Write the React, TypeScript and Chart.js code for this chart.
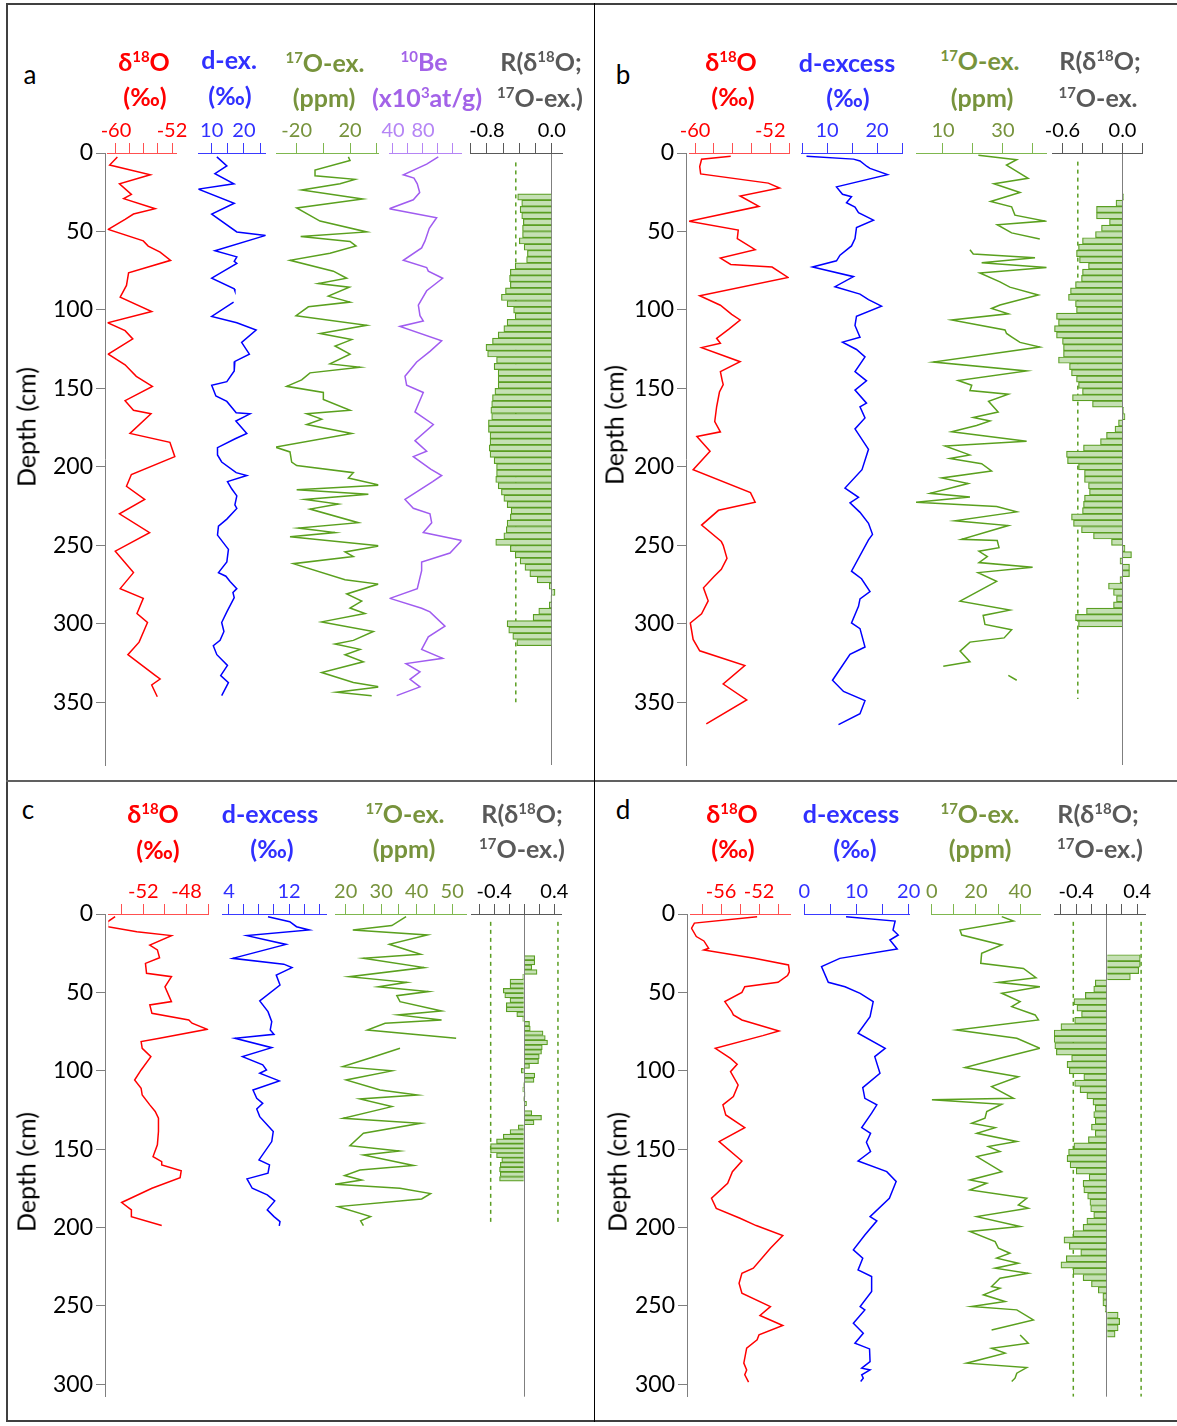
import React, { useEffect, useRef } from 'react';
import { Chart, registerables } from 'chart.js';

Chart.register(...registerables);

const FONT = 'Lato, "Liberation Sans", sans-serif';
Chart.defaults.font.family = FONT;

// ---------- DATA (depth cm, value) ----------
const DEPTH_TICKS_AB = [0, 50, 100, 150, 200, 250, 300, 350];
const DEPTH_TICKS_CD = [0, 50, 100, 150, 200, 250, 300];

// Panel a
const A_D18O = [[2.5,-59.8],[7.7,-60.9],[13.9,-55.1],[19.6,-59.5],[26.4,-57.8],[29.1,-58.9],[35.5,-54.4],[38.9,-57.5],[42.3,-58.7],[48.7,-61.1],[56,-56.1],[59.3,-55.4],[63.2,-53.7],[68.4,-52.2],[76.4,-58.2],[84.4,-58.5],[91.9,-59.4],[101,-54.9],[108.2,-61.2],[113.2,-58.7],[118.5,-57.6],[128.2,-61.1],[135,-58.7],[142.3,-57.1],[148.7,-54.8],[157.8,-58.7],[163.9,-57.5],[166.2,-55.0],[178.7,-58.0],[184.4,-52.3],[193.5,-51.6],[204.9,-57.8],[212.4,-58.5],[220.8,-55.9],[229.9,-59.5],[241.9,-55.2],[253.7,-60.1],[267.4,-57.5],[277.6,-59.4],[283.8,-56.1],[293.5,-57.0],[299.2,-55.5],[311.7,-56.7],[319.7,-58.3],[332.9,-54.4],[335.2,-53.7],[339,-54.9],[346.5,-54.1]];
const A_DEX = [[2.5,11.6],[8.2,14.7],[13.2,11.0],[19.6,16.9],[23,5.9],[32,17.0],[38.9,10.0],[50.3,17.8],[52.5,26.8],[62.3,11.0],[66.2,17.8],[69,17.0],[70.3,17.8],[79.8,10.0],[86.6,17.0],[87.8,17.2],[91,null],[95,16.8],[104.1,10.0],[108.2,17.8],[112.8,23.8],[120.7,19.3],[128.2,21.7],[132.8,17.2],[138.9,17.0],[145.7,14.7],[148,10.0],[154.8,11.3],[158.3,14.7],[165.5,17.6],[166.2,21.9],[170.8,17.5],[178.7,20.9],[182.1,17.3],[187.8,11.8],[192.4,11.8],[196.9,13.1],[203.7,17.6],[205.5,20.9],[209.4,14.9],[214,16.2],[218.5,17.8],[224.2,17.2],[226.5,17.8],[233.3,14.7],[237.8,12.1],[243.5,11.8],[252.6,15.2],[260.6,14.7],[267.4,12.1],[269.7,14.4],[273.1,15.7],[277.6,17.8],[280,16.6],[283.4,17.0],[292.4,14.7],[299.2,13.1],[304.9,13.8],[310.6,12.6],[314,10.5],[319.7,11.6],[326.5,14.9],[333,12.8],[337.5,15.2],[345.8,13.1]];
const A_17O = [[2.5,18.75],[4.8,20],[10.9,-6.25],[14.5,-6.25],[16.8,23.75],[19.6,12.5],[23.6,-16.25],[29.3,29.5],[35,-20],[43.4,-2.5],[50.3,32.5],[53.2,-17],[56.4,20],[59.3,24.5],[63.9,5],[68.4,-25],[75.3,7.5],[79.8,17.5],[83.2,-3.75],[85.5,19.5],[91.2,3.75],[95,20],[98,-11.25],[103.7,-20.5],[109.8,32.5],[115,-2.5],[118.9,21.25],[123,8.75],[128.2,20],[134.4,5],[136.6,27.5],[140.1,-10],[144.6,-16.25],[148.7,-27.5],[152.6,0],[157.1,0],[164,20],[166.2,-12.5],[169.6,-1.25],[173,-12.5],[178.7,21.25],[187.4,-36.25],[190.5,-25],[197,-23.75],[199.2,-20],[203.7,22.5],[207.1,18.75],[211.7,42.5],[214.6,-20],[217.4,33.75],[220.8,-13.75],[223.7,11.25],[226.9,-10],[235.6,26.25],[239,-18.75],[241.9,8.75],[244.6,-25],[250.3,42.5],[254.2,16.25],[257.2,22.5],[261.7,-22.5],[271.9,16.25],[274.7,41.25],[281,17.5],[285.6,28.75],[290,20],[293.5,31.25],[298.8,-1.25],[304.9,37.5],[310.6,22.5],[312.9,8.75],[316.3,27.5],[319.7,16.25],[324.2,30],[331.1,-1.25],[337.4,22.5],[340.2,42.5],[343.6,10],[345.8,36.25]];
const A_BE = [[2.5,100.4],[7.1,84.9],[13.9,53.8],[16,68],[19.6,72.4],[25.2,75.6],[29.8,67.1],[35.5,35.1],[41.2,98.2],[48,88.4],[56,82.7],[60.5,78.2],[68.4,53.8],[73,84.9],[75.3,87.1],[79.8,106.2],[87.8,84.9],[96.9,73.8],[103.7,76],[107,80.4],[110.5,49.3],[119.6,104.9],[126.4,89.3],[133.2,71.6],[142.3,56],[148,58.2],[152.6,80.4],[165,69.3],[173,93.8],[183.3,69.3],[190,84.9],[193.5,67.1],[201.5,90.2],[205.5,104.9],[209.4,92.9],[220.8,56],[226.4,67.1],[229.9,89.3],[235.6,91.6],[241.9,80.4],[246.9,131.6],[254.9,116],[260.6,78.2],[266.2,78.2],[277.6,72.4],[283.8,36],[290.1,78.2],[292.4,89.3],[301.5,109.3],[308.3,87.1],[316.3,78.2],[322,106.2],[325.4,57.3],[330.6,76],[335.4,62.7],[340.2,76],[345.8,44.9]];
const A_R = [[28,-0.42],[32,-0.37],[36,-0.39],[40,-0.37],[44,-0.35],[48,-0.36],[52,-0.36],[56,-0.40],[60,-0.34],[64,-0.30],[68,-0.31],[72,-0.45],[76,-0.51],[80,-0.52],[84,-0.51],[88,-0.57],[92,-0.62],[96,-0.55],[100,-0.47],[104,-0.45],[108,-0.55],[112,-0.59],[116,-0.66],[120,-0.73],[124,-0.81],[128,-0.79],[132,-0.68],[136,-0.71],[140,-0.66],[144,-0.66],[148,-0.66],[152,-0.70],[156,-0.73],[160,-0.74],[164,-0.75],[168,-0.74],[172,-0.78],[176,-0.78],[180,-0.76],[184,-0.76],[188,-0.77],[192,-0.76],[196,-0.71],[200,-0.68],[204,-0.68],[208,-0.69],[212,-0.66],[216,-0.62],[220,-0.59],[224,-0.55],[228,-0.50],[232,-0.51],[236,-0.55],[240,-0.56],[244,-0.59],[248,-0.69],[252,-0.51],[256,-0.45],[260,-0.39],[264,-0.33],[268,-0.27],[272,-0.18],[276,-0.03],[280,0.04],[284,-0.01],[288,-0.03],[292,-0.16],[296,-0.23],[300,-0.55],[304,-0.53],[308,-0.48],[312,-0.43]];
const A_R_THRESH = [-0.443];
const A_R_THRESH_SPAN = [6, 350];

// Panel b
const B_D18O = [[2,-56.2],[4,-59.3],[8.6,-59.5],[13.3,-59.4],[19.2,-52.2],[22.3,-51.0],[27.4,-55.2],[34,-53.2],[43.5,-60.7],[49.1,-55.4],[54.5,-55.5],[61.6,-53.6],[67,-57.3],[71,-56.2],[72.7,-51.8],[79.3,-50.1],[91,-59.5],[97,-57.3],[102.8,-56.1],[106.4,-55.2],[112.2,-56.4],[118.1,-57.7],[121.2,-57.3],[124,-59.3],[133,-55.2],[139.3,-57.3],[145.2,-57.1],[147.6,-57.0],[152.3,-57.4],[161.7,-57.7],[171.1,-57.9],[177.7,-57.3],[180.6,-59.8],[190,-58.4],[201.8,-60.2],[216.4,-54.1],[222.5,-53.6],[227.7,-57.5],[237.1,-59.3],[247.6,-57.2],[250,-57.0],[258.3,-56.6],[265.3,-57.2],[270,-58.0],[277.1,-59.1],[285.4,-58.6],[293.6,-59.3],[299.5,-60.5],[310,-60.2],[317.2,-59.5],[326.6,-54.7],[338.4,-57.0],[348.5,-54.5],[363.8,-58.8]];
const B_DEX = [[2,5.9],[3.9,15.3],[5.1,16.6],[8.6,18],[9.8,18.6],[13.8,22.1],[21.6,11.9],[26.3,13.1],[27.9,14.9],[31.7,13.9],[34.5,15.6],[38,16.3],[42.8,19.3],[47.5,15.9],[54.5,15.6],[59.2,14.9],[65.1,12.6],[68.7,11.9],[72.7,7.1],[78.8,15.3],[85.2,11.6],[89.9,16.6],[93.4,18.3],[97.6,20.9],[104,15.9],[109.9,15.6],[117.4,16.6],[120.5,13.1],[125.2,15.9],[129.9,17.6],[139.3,15.6],[145.2,17.9],[151.1,15.6],[159.4,17.9],[161.7,16.6],[168.8,17.6],[175.8,15.6],[188.8,18.3],[201.8,17.0],[213.5,13.6],[219.4,16.3],[222.9,14.6],[229,16.6],[236,18.3],[243,19.1],[246.5,18.3],[266.5,14.9],[271.3,16.9],[279.5,18.6],[284.2,16.6],[288.9,16.3],[299.5,14.9],[303.1,16.6],[314.8,17.6],[319.5,14.6],[336,11.1],[343.1,13.3],[349,17.6],[357.3,16.6],[364.3,12.3]];
const B_17O = [[1.4,21.8],[4.3,34.6],[7.7,31.2],[16.1,38.4],[19.6,27],[25.2,35.7],[30.9,25.9],[34.3,32.9],[39.6,34],[43.4,44],[45.7,28.1],[50.9,32.9],[54.8,42.3],[58,null],[61.6,19],[64.3,20.1],[66.8,40.7],[70,22.9],[73,44.6],[76.4,22.3],[82.1,29],[85.5,32.3],[90.5,41.8],[96.9,29],[99.1,26.2],[102.5,31.8],[106.4,12.9],[112.8,30.7],[115,31.2],[117.3,33],[120.7,35.7],[123.7,42.3],[133.2,6.8],[138.9,37.9],[145,15.1],[148,19.6],[151.4,19],[153.7,31.8],[158.2,25.2],[165,28.4],[168.5,20.1],[170.8,25.7],[173.7,21.2],[177.6,12.9],[183.7,37.9],[186.7,10.7],[192.4,18.9],[194.7,12.3],[198,22.9],[202.6,26.2],[207.1,9.6],[210.6,18.4],[216.9,5.7],[219.2,19],[222.6,0.7],[225.3,27.9],[228.7,34.6],[234.4,14],[237.4,31.8],[246.2,16.2],[247,28.1],[251.5,28.7],[253.8,22],[257.2,24.8],[261,22],[264,39.9],[267.4,21.7],[273,27.9],[285.6,15.7],[291.3,32.3],[294.7,23.4],[300.4,24],[303.8,32.9],[309,30.4],[311.7,19],[317.4,15.7],[324.2,19],[327,10.1],[330,null],[332.9,31.8],[336,34.6]];
const B_R = [[28,0.01],[32,-0.065],[36,-0.26],[40,-0.26],[44,-0.13],[48,-0.21],[52,-0.27],[56,-0.40],[60,-0.44],[64,-0.46],[68,-0.43],[72,-0.34],[76,-0.40],[80,-0.41],[84,-0.47],[88,-0.52],[92,-0.54],[96,-0.47],[100,-0.46],[104,-0.66],[108,-0.64],[112,-0.68],[116,-0.66],[120,-0.60],[124,-0.59],[128,-0.59],[132,-0.64],[136,-0.53],[140,-0.51],[144,-0.46],[148,-0.44],[152,-0.40],[156,-0.50],[160,-0.30],[164,0.01],[168,0.025],[172,-0.04],[176,-0.075],[180,-0.16],[184,-0.22],[188,-0.39],[192,-0.56],[196,-0.55],[200,-0.44],[204,-0.38],[208,-0.38],[212,-0.34],[216,-0.33],[220,-0.38],[224,-0.39],[228,-0.40],[232,-0.51],[236,-0.49],[240,-0.41],[244,-0.29],[248,-0.11],[252,0.025],[256,0.09],[260,-0.025],[264,0.07],[268,0.07],[272,-0.025],[276,-0.14],[280,-0.09],[284,-0.06],[288,-0.09],[292,-0.36],[296,-0.47],[300,-0.44]];
const B_R_THRESH = [-0.447];
const B_R_THRESH_SPAN = [5.5, 348];

// Panel c
const C_D18O = [[1.7,-54.6],[5,-55.3],[8.1,-55.3],[11.3,-52.6],[13.8,-49.4],[19.8,-51.4],[22.9,-50.7],[27.9,-50.5],[31.5,-51.8],[37.8,-51.7],[40,-49.4],[46.4,-50],[55.9,-49.4],[58,-51.4],[63.4,-51.2],[67.6,-47.8],[69.7,-47.5],[73.6,-46.1],[79.3,-50.5],[81.4,-52.2],[85.7,-52.1],[91,-51.3],[99.5,-52.2],[105.9,-52.8],[111.2,-52.2],[115.5,-52.1],[121.8,-51.4],[126,-50.9],[130.3,-50.6],[138.8,-50.6],[147.3,-50.7],[154.8,-51.1],[158,-50.3],[160.1,-50.3],[163.9,-48.5],[168.2,-48.6],[175,-51.2],[184.1,-54.0],[188.8,-53.1],[193.1,-53.1],[198.8,-50.3]];
const C_DEX = [[1.7,9.2],[4.9,12.1],[8.1,13],[10.2,14.7],[13.8,6.4],[19.4,11.6],[28.3,4.5],[32,11.3],[34.2,12.4],[39,10.3],[45.3,10.8],[55.5,8.1],[62.3,9.2],[68.7,9.7],[74,9.5],[76.8,10],[79.3,4.8],[85.3,9.7],[91,5.8],[96.3,8.5],[99.5,9],[101.6,8.1],[106.5,10.7],[112.3,7.2],[117.6,7.7],[120.8,8.5],[124.4,7.7],[129.3,8.1],[138.8,9.9],[145.2,9.7],[156.9,8],[160.1,9.4],[165.4,9.2],[169,6.4],[175,7.1],[179.2,9.1],[183.1,10.1],[188.8,9.1],[193.1,10],[196.3,10.8],[199,10.7]];
const C_17O = [[1.7,37],[7.4,33],[10.2,22],[13.4,43],[19.3,32.3],[25.7,41.1],[28.3,25],[34.2,42.1],[40,21],[43.6,37.2],[46.4,29.2],[49.5,43.3],[52.1,34.4],[55.9,35.3],[61.9,47],[64.4,34.8],[67.6,47],[69.7,31.1],[74,26.1],[79.3,51.1],[82,null],[85.7,35.3],[91.6,27.3],[97.4,19.2],[100.1,33],[105.9,20.1],[112.3,29.7],[115.5,40.2],[118,24],[122.9,33],[130.3,19.3],[133.5,41.1],[139.9,25],[147.8,21.2],[151.2,35.1],[153.7,25],[160.5,39.1],[163.3,24],[166.9,19.7],[169.7,24.5],[172.4,17],[175,35.3],[178.4,43.9],[181.8,41.4],[186.7,17.9],[193.1,27],[195.8,24.2],[198.8,25]];
const C_R = [[28,0.14],[31,0.14],[34,0.10],[37,0.17],[40,-0.02],[43,-0.19],[46,-0.19],[49,-0.28],[52,-0.26],[55,-0.19],[58,-0.24],[61,-0.24],[64,-0.10],[67,-0.02],[70,0.07],[73,0.08],[76,0.25],[79,0.28],[82,0.31],[85,0.24],[88,0.23],[91,0.20],[94,0.19],[97,0.07],[100,-0.04],[103,0.14],[106,0.13],[109,-0.01],[112,-0.02],[115,0.01],[118,-0.01],[121,0.03],[124,0],[127,0.10],[130,0.23],[133,0.13],[136,-0.08],[139,-0.19],[142,-0.28],[145,-0.37],[148,-0.45],[151,-0.45],[154,-0.37],[157,-0.30],[160,-0.32],[163,-0.33],[166,-0.32],[169,-0.33]];
const C_R_THRESH = [-0.448, 0.449];
const C_R_THRESH_SPAN = [5, 197];

// Panel d
const D_D18O = [[1.7,-52.2],[5.8,-58.8],[9.1,-59.1],[14.4,-58.6],[17.2,-57.8],[21.9,-57.3],[23,-57.8],[28.3,-52.5],[32.5,-48.9],[36.8,-48.8],[39.3,-49],[43.6,-50],[46.4,-53.5],[50,-53.8],[55.9,-55.6],[61.9,-54.9],[64.4,-54.7],[67.6,-53.8],[74.6,-49.9],[77.6,-51.6],[85.7,-56.6],[92.1,-55],[95.9,-54.3],[100.6,-55],[109.1,-54.2],[116.5,-54.7],[121.8,-55.8],[128.2,-55.5],[136.3,-53.5],[145.2,-56.2],[157.6,-53.8],[164.4,-54.8],[171.8,-55.3],[181.4,-57],[187.8,-56.5],[194.1,-54],[198.8,-52.3],[205.2,-49.5],[213.3,-50.8],[226,-52.6],[229.2,-53.8],[235.6,-54.1],[242,-53.8],[250.5,-50.8],[256.2,-51.9],[262.6,-49.5],[268.5,-52],[271.7,-52.2],[277,-53.3],[286.6,-53.6],[290.9,-53.3],[294,-53.5],[298.7,-53.1]];
const D_DEX = [[1.7,8],[4.5,17.4],[10.2,17.0],[13.4,18],[16.6,16.4],[22.3,17.8],[28.3,6.8],[33.6,3.3],[43.6,4.6],[46.4,7.8],[50.6,10.7],[55.9,13.2],[65.5,12.6],[76.1,10.3],[85.7,15.5],[91,13.5],[101.6,14.5],[110.8,11.2],[117.6,11.6],[121.8,13.9],[127.1,12.9],[136.3,11],[139.9,12.7],[145.6,11.9],[151.6,12.7],[157.6,10.3],[164.4,15.8],[170.7,17.6],[181.4,16.3],[193.1,12.6],[195.8,13.9],[204.8,11.6],[214.3,9.4],[219.6,11.2],[227.1,10.3],[231.3,12.9],[240.9,12.9],[250.5,10.7],[252.6,11.6],[261.1,9.4],[267.5,11.3],[273.9,9.7],[277.5,12.5],[285.6,12.6],[289.8,11],[290.9,12.6],[294,11],[296.2,11.3],[298.3,10.8]];
const D_17O = [[1.7,31.7],[4.5,37],[10.2,12.8],[13.4,13.6],[19.8,31.7],[25.1,22.6],[31.5,22.2],[34.7,41.5],[40.6,47.2],[43.6,30.2],[46.4,49],[50.6,31.7],[55.9,40],[59.1,36.2],[64.4,46.8],[67.6,48.3],[74,11.3],[79.3,38.5],[85.7,49],[92.1,30.9],[98,15.1],[103.8,39.2],[110.1,27.1],[117.6,37],[118.6,0],[121.4,31.7],[126.1,24.9],[130.3,24.1],[133.5,18.1],[136.3,28.7],[139.9,20.4],[145.2,38.5],[148.4,25.6],[151.6,30.9],[154.8,20.4],[164.4,31.7],[169.7,17.3],[171.8,24.9],[176.1,17.3],[181.4,43],[185.6,39.2],[187.8,43.7],[193.1,20.4],[199.4,40],[202.6,17.3],[209,28.7],[213.3,30.2],[216.5,35.4],[219.6,29.4],[222.8,39.2],[226,28.7],[229.2,43.6],[232.4,30.9],[237.7,27.1],[238.8,30.9],[243,23.4],[247.3,33.2],[250.5,18.1],[252.6,38.5],[259,46],[265.4,27.1],[267,null],[268.6,40],[273.9,43.7],[277.1,27.1],[280.2,33.2],[286.6,15.8],[289.4,43],[293,38.5],[296.2,37.7],[298.3,36.2]];
const D_R = [[28,0.44],[32,0.44],[36,0.42],[40,0.31],[44,-0.15],[48,-0.17],[52,-0.28],[56,-0.43],[60,-0.39],[64,-0.33],[68,-0.42],[72,-0.60],[76,-0.69],[80,-0.69],[84,-0.68],[88,-0.66],[92,-0.46],[96,-0.52],[100,-0.49],[104,-0.30],[108,-0.42],[112,-0.35],[116,-0.26],[120,-0.18],[124,-0.15],[128,-0.17],[132,-0.15],[136,-0.20],[140,-0.15],[144,-0.24],[148,-0.43],[152,-0.50],[156,-0.52],[160,-0.48],[164,-0.40],[168,-0.23],[172,-0.31],[176,-0.30],[180,-0.25],[184,-0.22],[188,-0.21],[192,-0.17],[196,-0.26],[200,-0.31],[204,-0.44],[208,-0.56],[212,-0.49],[216,-0.34],[220,-0.53],[224,-0.60],[228,-0.44],[232,-0.31],[236,-0.20],[240,-0.11],[244,-0.05],[248,-0.05],[252,-0.02],[256,0.15],[260,0.17],[264,0.15],[268,0.11]];
const D_R_THRESH = [-0.438, 0.451];
const D_R_THRESH_SPAN = [5, 308];

// Axis tick values and labels
const A_TICKS = {
  d18o: [-60, -58, -56, -54, -52], d18oL: ['-60', '', '', '', '-52'],
  dex: [10, 15, 20, 25], dexL: ['10', '', '20', ''],
  o17: [-20, 0, 20, 40], o17L: ['-20', '', '20', ''],
  be: [40, 60, 80, 100, 120], beL: ['40', '', '80', '', ''],
  r: [-1, -0.8, -0.6, -0.4, -0.2, 0], rL: ['', '-0.8', '', '', '', '0.0'],
};
const B_TICKS = {
  d18o: [-60, -58, -56, -54, -52, -50], d18oL: ['-60', '', '', '', '-52', ''],
  dex: [5, 10, 15, 20, 25], dexL: ['', '10', '', '20', ''],
  o17: [10, 20, 30, 40], o17L: ['10', '', '30', ''],
  r: [-0.6, -0.4, -0.2, 0, 0.2], rL: ['-0.6', '', '', '0.0', ''],
};
const C_TICKS = {
  d18o: [-54, -52, -50, -48, -46], d18oL: ['', '-52', '', '-48', ''],
  dex: [4, 6, 8, 10, 12, 14, 16], dexL: ['4', '', '', '', '12', '', ''],
  o17: [20, 25, 30, 35, 40, 45, 50], o17L: ['20', '', '30', '', '40', '', '50'],
  r: [-0.6, -0.4, -0.2, 0, 0.2, 0.4], rL: ['', '-0.4', '', '', '', '0.4'],
};
const D_TICKS = {
  d18o: [-58, -56, -54, -52, -50], d18oL: ['', '-56', '', '-52', ''],
  dex: [0, 5, 10, 15, 20], dexL: ['0', '', '10', '', '20'],
  o17: [0, 10, 20, 30, 40], o17L: ['0', '', '20', '', '40'],
  r: [-0.6, -0.4, -0.2, 0, 0.2, 0.4], rL: ['', '-0.4', '', '', '', '0.4'],
};

// ---------- STYLE ----------
const RED = '#ff0000';
const RED_AX = '#ff5050';
const BLUE = '#0000ff';
const BLUE_AX = '#3a3aff';
const BLUE_TXT = '#3030ff';
const GREEN_LINE = '#5aa01e';
const GREEN_AX = '#7fb74f';
const OLIVE = '#77933c';
const PURPLE_LINE = '#a05cf0';
const PURPLE_AX = '#b585f5';
const PURPLE_TXT = '#a363e8';
const GRAY = '#595959';
const BAR_FILL = '#c5e0b4';
const BAR_EDGE = '#5a9e22';
const ZERO = '#7f7f7f';

const H = 40;
const B = 20;
const PAD = 30;

function lineSet(pairs: any[], color: string) {
  return {
    type: 'line', indexAxis: 'y',
    data: pairs.map((p) => ({ x: p[1], y: p[0] })),
    borderColor: color, borderWidth: 1.5, pointRadius: 0, fill: false, tension: 0, spanGaps: false,
  };
}
function barSet(pairs: any[]) {
  return {
    type: 'bar', indexAxis: 'y',
    data: pairs.map((p) => ({ x: p[1], y: p[0] })),
    backgroundColor: BAR_FILL, borderColor: BAR_EDGE, borderWidth: 1.2,
    barPercentage: 1, categoryPercentage: 1,
  };
}
function dashSets(xs: number[], span: number[]) {
  return xs.map((x) => ({
    type: 'line', indexAxis: 'y',
    data: span.map((d) => ({ x, y: d })),
    borderColor: BAR_EDGE, borderWidth: 1.5, borderDash: [4, 4], pointRadius: 0, fill: false,
  }));
}

type Track = {
  left: number; right: number; min: number; max: number;
  ticks: number[]; labels: string[]; axisColor: string; labelColor: string;
  zero?: boolean; datasets: any[];
};
type Panel = {
  plotTop: number; plotBottom: number; yMax: number; depthX: number; depthTicks: number[]; tracks: Track[];
};

const PANELS: Panel[] = [
  {
    plotTop: 153, plotBottom: 765, yMax: 390, depthX: 105, depthTicks: DEPTH_TICKS_AB,
    tracks: [
      { left: 107.5, right: 176, min: -61.21, max: -51.43, ticks: A_TICKS.d18o, labels: A_TICKS.d18oL, axisColor: RED_AX, labelColor: RED, datasets: [lineSet(A_D18O, RED)] },
      { left: 198.3, right: 265.7, min: 5.84, max: 26.77, ticks: A_TICKS.dex, labels: A_TICKS.dexL, axisColor: BLUE_AX, labelColor: BLUE_TXT, datasets: [lineSet(A_DEX, BLUE)] },
      { left: 276, right: 378.3, min: -35.5, max: 41.2, ticks: A_TICKS.o17, labels: A_TICKS.o17L, axisColor: GREEN_AX, labelColor: OLIVE, datasets: [lineSet(A_17O, GREEN_LINE)] },
      { left: 389.3, right: 461.7, min: 35.1, max: 131.6, ticks: A_TICKS.be, labels: A_TICKS.beL, axisColor: PURPLE_AX, labelColor: PURPLE_AX, datasets: [lineSet(A_BE, PURPLE_LINE)] },
      { left: 470, right: 562, min: -1.007, max: 0.126, ticks: A_TICKS.r, labels: A_TICKS.rL, axisColor: GRAY, labelColor: '#000', zero: true, datasets: [barSet(A_R), ...dashSets(A_R_THRESH, A_R_THRESH_SPAN)] },
    ],
  },
  {
    plotTop: 153, plotBottom: 765, yMax: 390, depthX: 686, depthTicks: DEPTH_TICKS_AB,
    tracks: [
      { left: 689, right: 789, min: -60.64, max: -50, ticks: B_TICKS.d18o, labels: B_TICKS.d18oL, axisColor: RED_AX, labelColor: RED, datasets: [lineSet(B_D18O, RED)] },
      { left: 801.7, right: 902, min: 4.94, max: 25, ticks: B_TICKS.dex, labels: B_TICKS.dexL, axisColor: BLUE_AX, labelColor: BLUE_TXT, datasets: [lineSet(B_DEX, BLUE)] },
      { left: 916, right: 1046.7, min: 1, max: 44.6, ticks: B_TICKS.o17, labels: B_TICKS.o17L, axisColor: GREEN_AX, labelColor: OLIVE, datasets: [lineSet(B_17O, GREEN_LINE)] },
      { left: 1052.3, right: 1142.7, min: -0.702, max: 0.202, ticks: B_TICKS.r, labels: B_TICKS.rL, axisColor: GRAY, labelColor: '#000', zero: true, datasets: [barSet(B_R), ...dashSets(B_R_THRESH, B_R_THRESH_SPAN)] },
    ],
  },
  {
    plotTop: 914, plotBottom: 1396.7, yMax: 308, depthX: 105, depthTicks: DEPTH_TICKS_CD,
    tracks: [
      { left: 108.3, right: 208.3, min: -55.23, max: -46, ticks: C_TICKS.d18o, labels: C_TICKS.d18oL, axisColor: RED_AX, labelColor: RED, datasets: [lineSet(C_D18O, RED)] },
      { left: 222.3, right: 326, min: 3.11, max: 16.93, ticks: C_TICKS.dex, labels: C_TICKS.dexL, axisColor: BLUE_AX, labelColor: BLUE_TXT, datasets: [lineSet(C_DEX, BLUE)] },
      { left: 335, right: 466.7, min: 16.99, max: 54.08, ticks: C_TICKS.o17, labels: C_TICKS.o17L, axisColor: GREEN_AX, labelColor: OLIVE, datasets: [lineSet(C_17O, GREEN_LINE)] },
      { left: 471.7, right: 561.7, min: -0.701, max: 0.499, ticks: C_TICKS.r, labels: C_TICKS.rL, axisColor: GRAY, labelColor: '#000', zero: true, datasets: [barSet(C_R), ...dashSets(C_R_THRESH, C_R_THRESH_SPAN)] },
    ],
  },
  {
    plotTop: 914, plotBottom: 1396.7, yMax: 308, depthX: 687, depthTicks: DEPTH_TICKS_CD,
    tracks: [
      { left: 690.7, right: 790, min: -59.19, max: -48.74, ticks: D_TICKS.d18o, labels: D_TICKS.d18oL, axisColor: RED_AX, labelColor: RED, datasets: [lineSet(D_D18O, RED)] },
      { left: 804.3, right: 909, min: 0, max: 20.06, ticks: D_TICKS.dex, labels: D_TICKS.dexL, axisColor: BLUE_AX, labelColor: BLUE_TXT, datasets: [lineSet(D_DEX, BLUE)] },
      { left: 931.7, right: 1040, min: 0, max: 49, ticks: D_TICKS.o17, labels: D_TICKS.o17L, axisColor: GREEN_AX, labelColor: OLIVE, datasets: [lineSet(D_17O, GREEN_LINE)] },
      { left: 1054, right: 1145, min: -0.691, max: 0.502, ticks: D_TICKS.r, labels: D_TICKS.rL, axisColor: GRAY, labelColor: '#000', zero: true, datasets: [barSet(D_R), ...dashSets(D_R_THRESH, D_R_THRESH_SPAN)] },
    ],
  },
];

function TrackChart({ spec, panel }: { spec: Track; panel: Panel }) {
  const ref = useRef<HTMLCanvasElement>(null);
  const cl = Math.floor(spec.left) - PAD;
  const cr = Math.ceil(spec.right) + PAD;
  const ct = Math.round(panel.plotTop - H);
  const w = cr - cl;
  const h = Math.round(H + (panel.plotBottom - panel.plotTop) + B);
  useEffect(() => {
    const chart = new Chart(ref.current as HTMLCanvasElement, {
      type: 'line',
      data: { datasets: spec.datasets as any },
      options: {
        animation: false, responsive: false, maintainAspectRatio: false, events: [],
        layout: { padding: { left: spec.left - cl, right: cr - spec.right, top: 0, bottom: h - H - (panel.plotBottom - panel.plotTop) } },
        plugins: { legend: { display: false }, tooltip: { enabled: false } },
        scales: {
          x: {
            type: 'linear', position: 'top', min: spec.min, max: spec.max, offset: false,
            afterBuildTicks: (s: any) => { s.ticks = spec.ticks.map((v) => ({ value: v })); },
            afterFit: (s: any) => { s.height = H; },
            ticks: {
              autoSkip: false, maxRotation: 0, minRotation: 0, padding: 0,
              color: spec.labelColor, font: { family: FONT, size: 20 },
              callback: (_v: any, i: number) => spec.labels[i],
            },
            grid: {
              offset: false,
              drawOnChartArea: !!spec.zero, drawTicks: true, tickLength: 10, tickColor: spec.axisColor, tickWidth: 1, lineWidth: 1,
              color: (ctx: any) => (spec.zero && ctx.tick && ctx.tick.value === 0 ? ZERO : 'rgba(0,0,0,0)'),
            },
            border: { display: true, color: spec.axisColor, width: 1 },
          },
          y: { type: 'linear', display: false, min: 0, max: panel.yMax, reverse: true, offset: false, grid: { offset: false } },
        },
      } as any,
    });
    return () => chart.destroy();
  }, []);
  return <canvas ref={ref} width={w} height={h} style={{ position: 'absolute', left: cl, top: ct, width: w, height: h }} />;
}

function DepthAxis({ panel }: { panel: Panel }) {
  const ref = useRef<HTMLCanvasElement>(null);
  const W = 70;
  const cl = panel.depthX - W;
  const w = W + 4;
  const ct = Math.round(panel.plotTop - H);
  const h = Math.round(H + (panel.plotBottom - panel.plotTop) + B);
  useEffect(() => {
    const chart = new Chart(ref.current as HTMLCanvasElement, {
      type: 'line',
      data: { datasets: [] },
      options: {
        animation: false, responsive: false, maintainAspectRatio: false, events: [],
        layout: { padding: { left: 0, right: 4, top: H, bottom: h - H - (panel.plotBottom - panel.plotTop) } },
        plugins: { legend: { display: false }, tooltip: { enabled: false } },
        scales: {
          x: { type: 'linear', display: false, min: 0, max: 1 },
          y: {
            type: 'linear', position: 'left', min: 0, max: panel.yMax, reverse: true, offset: false,
            afterBuildTicks: (s: any) => { s.ticks = panel.depthTicks.map((v) => ({ value: v })); },
            afterFit: (s: any) => { s.width = W; },
            ticks: { color: '#000', font: { family: FONT, size: 23 }, padding: 3 },
            grid: { drawOnChartArea: false, drawTicks: true, tickLength: 9, tickColor: ZERO, offset: false },
            border: { display: true, color: ZERO, width: 1 },
          },
        },
      } as any,
    });
    return () => chart.destroy();
  }, []);
  return <canvas ref={ref} width={w} height={h} style={{ position: 'absolute', left: cl, top: ct, width: w, height: h }} />;
}

const Sup = ({ children }: any) => (
  <span style={{ fontSize: '0.6em', position: 'relative', top: '-0.6em' }}>{children}</span>
);

function Txt({ x, y, color = '#000', size = 25, bold = true, children }: any) {
  return (
    <div style={{
      position: 'absolute', left: x, top: y, transform: 'translate(-50%,-50%)', color,
      fontFamily: FONT, fontSize: size, fontWeight: bold ? 700 : 400, whiteSpace: 'nowrap', lineHeight: 1,
    }}>{children}</div>
  );
}

function DepthTitle({ x, y }: any) {
  return (
    <div style={{
      position: 'absolute', left: x, top: y, transform: 'translate(-50%,-50%) rotate(-90deg)',
      fontFamily: FONT, fontSize: 25, color: '#000', whiteSpace: 'nowrap', lineHeight: 1,
    }}>Depth (cm)</div>
  );
}

const D18 = () => (<>δ<Sup>18</Sup>O</>);
const O17 = () => (<><Sup>17</Sup>O-ex.</>);

export default function App() {
  return (
    <div style={{ position: 'absolute', left: 0, top: 0, width: 1177, height: 1426, background: '#fff', overflow: 'hidden' }}>
      {/* frame */}
      <div style={{ position: 'absolute', left: 6, top: 3, width: 1171, height: 2, background: '#404040' }} />
      <div style={{ position: 'absolute', left: 6, top: 3, width: 2, height: 1419, background: '#404040' }} />
      <div style={{ position: 'absolute', left: 6, top: 1420, width: 1171, height: 2, background: '#404040' }} />
      <div style={{ position: 'absolute', left: 6, top: 780, width: 1171, height: 2, background: '#606060' }} />
      <div style={{ position: 'absolute', left: 594, top: 3, width: 1, height: 1419, background: '#000' }} />

      {PANELS.map((p, pi) => (
        <React.Fragment key={pi}>
          <DepthAxis panel={p} />
          {p.tracks.map((t, ti) => <TrackChart key={ti} spec={t} panel={p} />)}
        </React.Fragment>
      ))}

      {/* panel letters */}
      <Txt x={30} y={74} size={26} bold={false}>a</Txt>
      <Txt x={623} y={74} size={26} bold={false}>b</Txt>
      <Txt x={28} y={809} size={26} bold={false}>c</Txt>
      <Txt x={623} y={809} size={26} bold={false}>d</Txt>

      <DepthTitle x={26} y={427} />
      <DepthTitle x={614} y={425} />
      <DepthTitle x={26} y={1172} />
      <DepthTitle x={617} y={1172} />

      {/* panel a titles */}
      <Txt x={144} y={61} color={RED}><D18 /></Txt>
      <Txt x={145} y={96} color={RED}>(‰)</Txt>
      <Txt x={229} y={59} color={BLUE_TXT}>d-ex.</Txt>
      <Txt x={230} y={95} color={BLUE_TXT}>(‰)</Txt>
      <Txt x={325} y={62} color={OLIVE}><O17 /></Txt>
      <Txt x={324} y={97} color={OLIVE}>(ppm)</Txt>
      <Txt x={424} y={61} color={PURPLE_TXT}><Sup>10</Sup>Be</Txt>
      <Txt x={427} y={97} color={PURPLE_TXT}>(x10<Sup>3</Sup>at/g)</Txt>
      <Txt x={541} y={61} color={GRAY}>R(<D18 />;</Txt>
      <Txt x={540} y={97} color={GRAY}><Sup>17</Sup>O-ex.)</Txt>

      {/* panel b titles */}
      <Txt x={731} y={61} color={RED}><D18 /></Txt>
      <Txt x={733} y={96} color={RED}>(‰)</Txt>
      <Txt x={847} y={62} color={BLUE_TXT}>d-excess</Txt>
      <Txt x={848} y={97} color={BLUE_TXT}>(‰)</Txt>
      <Txt x={980} y={60} color={OLIVE}><O17 /></Txt>
      <Txt x={982} y={97} color={OLIVE}>(ppm)</Txt>
      <Txt x={1100} y={60} color={GRAY}>R(<D18 />;</Txt>
      <Txt x={1098} y={97} color={GRAY}><O17 /></Txt>

      {/* panel c titles */}
      <Txt x={153} y={813} color={RED}><D18 /></Txt>
      <Txt x={158} y={849} color={RED}>(‰)</Txt>
      <Txt x={270} y={813} color={BLUE_TXT}>d-excess</Txt>
      <Txt x={272} y={848} color={BLUE_TXT}>(‰)</Txt>
      <Txt x={405} y={813} color={OLIVE}><O17 /></Txt>
      <Txt x={404} y={848} color={OLIVE}>(ppm)</Txt>
      <Txt x={522} y={813} color={GRAY}>R(<D18 />;</Txt>
      <Txt x={522} y={848} color={GRAY}><Sup>17</Sup>O-ex.)</Txt>

      {/* panel d titles */}
      <Txt x={732} y={813} color={RED}><D18 /></Txt>
      <Txt x={733} y={848} color={RED}>(‰)</Txt>
      <Txt x={851} y={813} color={BLUE_TXT}>d-excess</Txt>
      <Txt x={855} y={848} color={BLUE_TXT}>(‰)</Txt>
      <Txt x={980} y={813} color={OLIVE}><O17 /></Txt>
      <Txt x={980} y={848} color={OLIVE}>(ppm)</Txt>
      <Txt x={1098} y={813} color={GRAY}>R(<D18 />;</Txt>
      <Txt x={1100} y={848} color={GRAY}><Sup>17</Sup>O-ex.)</Txt>
    </div>
  );
}
